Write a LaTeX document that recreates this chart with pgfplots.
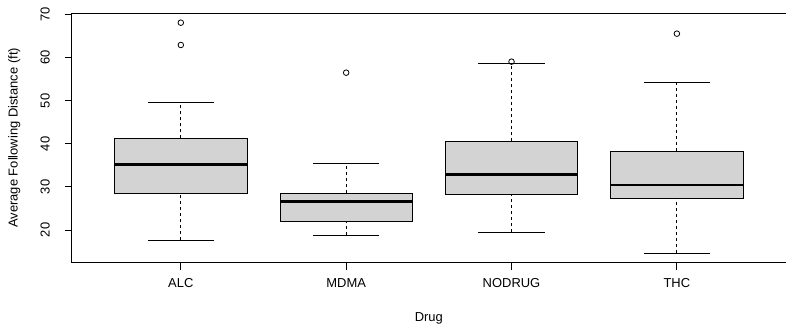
\documentclass[border=0pt]{standalone}
\usepackage{pgfplots}
\pgfplotsset{compat=1.18}
\usepackage{fontspec}
\setmainfont{Liberation Sans}
\definecolor{boxgray}{HTML}{D3D3D3}
\pgfplotsset{
  boxstyle/.style={draw=black, fill=boxgray, line width=0.8bp},
  whisk/.style={black, line width=0.8bp, dash pattern=on 3bp off 3bp},
  cap/.style={black, line width=0.8bp},
  med/.style={black, line width=2.6bp},
}
\begin{document}
\fontsize{13}{15}\selectfont
\begin{tikzpicture}
\begin{axis}[
  scale only axis, width=714.5bp, height=249.7bp,
  xmin=0.34, xmax=4.66, ymin=12.42, ymax=70.39,
  xtick={1,2,3,4}, xticklabels={ALC,MDMA,NODRUG,THC},
  ytick={20,30,40,50,60,70},
  tick pos=left, tick align=outside, major tick length=7bp,
  tick style={black, line width=0.9bp},
  axis line style={black, line width=0.8bp},
  /pgf/number format/assume math mode=true,
  yticklabel style={xshift=-15bp, anchor=base, rotate=90, inner sep=0pt},
  xticklabel style={anchor=north, inner sep=0pt, yshift=-8.5bp},
  every axis x label/.style={at={(axis description cs:0.5,0)}, anchor=base, yshift=-59.3bp},
  every axis y label/.style={at={(axis description cs:0,0.5)}, xshift=-54bp, rotate=90, anchor=base},
  xlabel={Drug},
  ylabel={Average Following Distance (ft)},
]
% ALC
\addplot[whisk] coordinates {(1,17.69) (1,28.60)};
\addplot[whisk] coordinates {(1,41.30) (1,49.66)};
\addplot[cap] coordinates {(0.8,17.69) (1.2,17.69)};
\addplot[cap] coordinates {(0.8,49.66) (1.2,49.66)};
\addplot[boxstyle] coordinates {(0.6,28.60) (1.4,28.60) (1.4,41.30) (0.6,41.30)} --cycle;
\addplot[med] coordinates {(0.6,35.27) (1.4,35.27)};
% MDMA
\addplot[whisk] coordinates {(2,18.78) (2,21.94)};
\addplot[whisk] coordinates {(2,28.53) (2,35.50)};
\addplot[cap] coordinates {(1.8,18.78) (2.2,18.78)};
\addplot[cap] coordinates {(1.8,35.50) (2.2,35.50)};
\addplot[boxstyle] coordinates {(1.6,21.94) (2.4,21.94) (2.4,28.53) (1.6,28.53)} --cycle;
\addplot[med] coordinates {(1.6,26.58) (2.4,26.58)};
% NODRUG
\addplot[whisk] coordinates {(3,19.48) (3,28.37)};
\addplot[whisk] coordinates {(3,40.60) (3,58.71)};
\addplot[cap] coordinates {(2.8,19.48) (3.2,19.48)};
\addplot[cap] coordinates {(2.8,58.71) (3.2,58.71)};
\addplot[boxstyle] coordinates {(2.6,28.37) (3.4,28.37) (3.4,40.60) (2.6,40.60)} --cycle;
\addplot[med] coordinates {(2.6,32.94) (3.4,32.94)};
% THC
\addplot[whisk] coordinates {(4,14.60) (4,27.44)};
\addplot[whisk] coordinates {(4,38.35) (4,54.30)};
\addplot[cap] coordinates {(3.8,14.60) (4.2,14.60)};
\addplot[cap] coordinates {(3.8,54.30) (4.2,54.30)};
\addplot[boxstyle] coordinates {(3.6,27.44) (4.4,27.44) (4.4,38.35) (3.6,38.35)} --cycle;
\addplot[med] coordinates {(3.6,30.46) (4.4,30.46)};
% outliers
\addplot[only marks, mark=o, mark size=2.8bp, mark options={line width=0.8bp, black}] coordinates {
  (1,68.14) (1,62.96) (2,56.53) (3,59.09) (4,65.59)
};
\end{axis}
\pgfresetboundingbox
\path[use as bounding box] (-71.7bp,-64.3bp) rectangle (714.5bp,262.7bp);
\end{tikzpicture}
\end{document}
